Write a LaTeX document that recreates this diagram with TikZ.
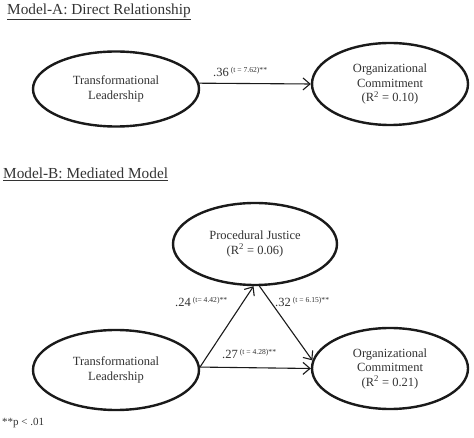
\documentclass[tikz,border=0pt]{standalone}
\usepackage{fontspec}
\setmainfont{Liberation Serif}
\usetikzlibrary{shapes.geometric,arrows.meta}
\definecolor{ink}{HTML}{333333}
\definecolor{edge}{HTML}{1A1A1A}
\tikzset{
  latent/.style={ellipse, draw=edge, line width=2.4pt, inner sep=0pt, text=ink,
    align=center, font=\fontsize{12.5}{14.5}\selectfont},
  path/.style={draw=edge, line width=1.1pt, -{Straight Barb[length=7pt,width=12pt,line width=1.1pt]}},
  coef/.style={text=ink, anchor=west, inner sep=0pt, font=\fontsize{12.5}{14}\selectfont},
  title/.style={text=ink, anchor=base west, inner sep=0pt, font=\fontsize{15.3}{17}\selectfont},
}
\newcommand{\tval}[1]{\raisebox{0.7ex}{\fontsize{7.6}{8}\selectfont #1}}
\begin{document}
\begin{tikzpicture}[x=1pt,y=-1pt]
\useasboundingbox[fill=white] (0,0) rectangle (474,438);
% Model A
\node[title] (ta) at (7,14.5) {\underline{Model-A: Direct Relationship}};
\node[latent, minimum width=166, minimum height=75] (tla) at (116,89) {Transformational\\Leadership};
\node[latent, minimum width=156, minimum height=82] (oca) at (390,84) {Organizational\\Commitment\\(R\textsuperscript{2} = 0.10)};
\draw[path] (tla.4) -- (oca.west);
\node[coef] (ca) at (213,72) {.36\,\tval{(t = 7.62)**}};
% Model B
\node[title] (tb) at (3,178.5) {\underline{Model-B: Mediated Model}};
\node[latent, minimum width=164, minimum height=82] (pj) at (255,244) {Procedural Justice\\(R\textsuperscript{2} = 0.06)};
\node[latent, minimum width=166, minimum height=80] (tlb) at (116,370) {Transformational\\Leadership};
\node[latent, minimum width=156, minimum height=81] (ocb) at (390,368.5) {Organizational\\Commitment\\(R\textsuperscript{2} = 0.21)};
\draw[path] (tlb.2) -- (pj.268);
\draw[path] (pj.276) -- (ocb.174);
\draw[path] (tlb.2) -- (ocb.west);
\node[coef] (c1) at (175,302) {.24\,\tval{(t= 4.42)**}};
\node[coef] (c2) at (275,302) {.32\,\tval{(t = 6.15)**}};
\node[coef] (c3) at (222,354) {.27\,\tval{(t = 4.28)**}};
\node[text=ink, anchor=base west, inner sep=0pt, font=\fontsize{11}{12}\selectfont] (note) at (2,425) {**p < .01};
\end{tikzpicture}
\end{document}
